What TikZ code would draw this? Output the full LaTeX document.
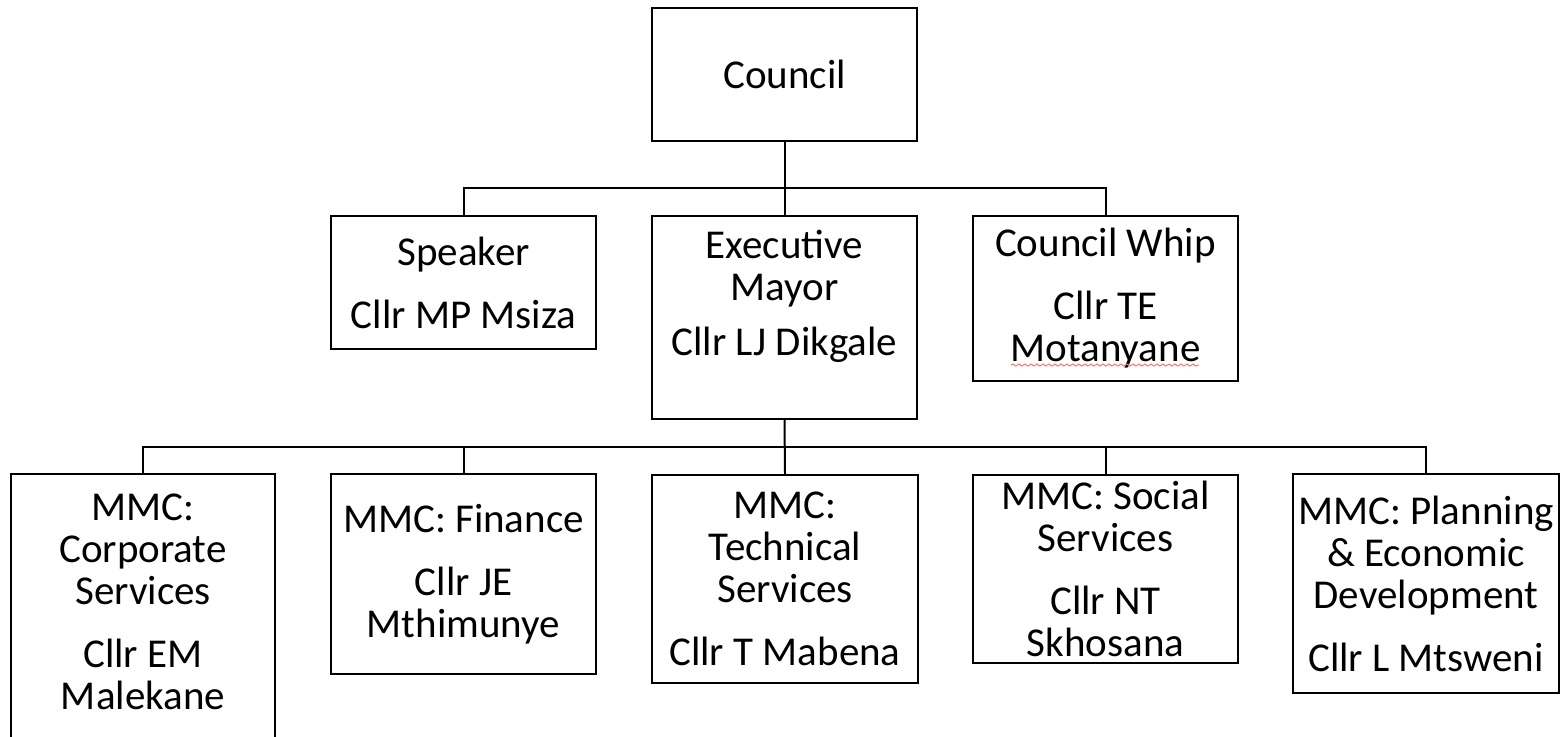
\documentclass[tikz,border=0pt]{standalone}
\usepackage{fontspec}
\setmainfont{Carlito}
\usetikzlibrary{decorations.pathmorphing}
\begin{document}
\begin{tikzpicture}[x=0.5pt,y=-0.5pt,
  orgbox/.style={draw=black, line width=1pt, rectangle, align=center, inner sep=0pt,
    font=\fontsize{20.5}{21}\selectfont},
  link/.style={draw=black, line width=1pt},
  spell/.style={draw=red!55, line width=0.5pt, decorate, decoration={snake, amplitude=0.5pt, segment length=3pt}}]
\useasboundingbox (0,0) rectangle (1562,736);
\fill[white] (0,0) rectangle (1562,736);
% level 0
\node[orgbox, minimum width=132.5pt, minimum height=66.5pt] (council) at (784.5,74.5) {Council};
% level 1
\node[orgbox, minimum width=132.5pt, minimum height=66.5pt] (speaker) at (463.5,282.5) {Speaker\\[10.5pt]Cllr MP Msiza};
\node[orgbox, minimum width=132.5pt, minimum height=101.5pt, text depth=25pt] (exec) at (784.5,317.5) {Executive\\Mayor\\[6.5pt]Cllr LJ Dikgale};
\node[orgbox, minimum width=132.5pt, minimum height=82.5pt] (whip) at (1105.5,298.5) {Council Whip\\[10.5pt]Cllr TE\\Motanyane};
% level 2
\node[orgbox, minimum width=132pt, minimum height=135.5pt, text depth=8pt] (corp) at (143,609.5) {MMC:\\Corporate\\Services\\[10.5pt]Cllr EM\\Malekane};
\node[orgbox, minimum width=132.5pt, minimum height=100pt] (fin) at (463.5,574) {MMC: Finance\\[10.5pt]Cllr JE\\Mthimunye};
\node[orgbox, minimum width=133pt, minimum height=104pt] (tech) at (785,579) {MMC:\\Technical\\Services\\[10.5pt]Cllr T Mabena};
\node[orgbox, minimum width=132.5pt, minimum height=94pt] (soc) at (1105.5,569) {MMC: Social\\Services\\[10.5pt]Cllr NT\\Skhosana};
\node[orgbox, minimum width=133pt, minimum height=109.5pt] (plan) at (1426,583.5) {MMC: Planning\\\& Economic\\Development\\[10.5pt]Cllr L Mtsweni};
% spell-check underline
\draw[spell] (1011,365) -- (1199,365);
% buses
\coordinate (bus1) at (784.5,188);
\coordinate (bus2) at (784.5,447);
\draw[link] (council.south) -- (exec.north);
\draw[link] (speaker.north) |- (bus1) -| (whip.north);
\draw[link] (exec.south) -- (tech.north);
\draw[link] (corp.north) |- (bus2) -| (plan.north);
\draw[link] (fin.north) |- (bus2);
\draw[link] (soc.north) |- (bus2);
\end{tikzpicture}
\end{document}
